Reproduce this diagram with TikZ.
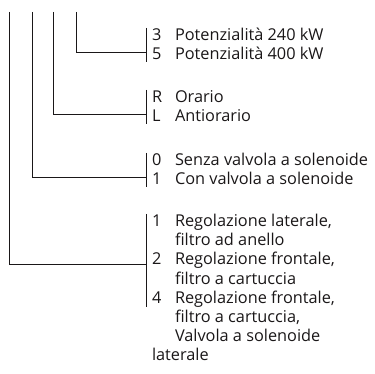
\documentclass[tikz,border=0pt]{standalone}
\usepackage{fontspec}
\setmainfont{Open Sans}
\definecolor{ink}{HTML}{1A1718}
\begin{document}
\begin{tikzpicture}[x=1pt,y=-1pt,
  every node/.style={inner sep=0pt,outer sep=0pt,text=ink,font=\fontsize{16.3}{19}\selectfont},
  lbl/.style={anchor=base west},
  wire/.style={draw=ink,line width=0.9pt},
  barline/.style={draw=ink,line width=0.9pt}]
\useasboundingbox (0,0) rectangle (375,374);
% group 1
\node[lbl] (n3) at (152,41) {3};
\node[lbl] (t3) at (175,41) {Potenzialità 240 kW};
\node[lbl] (n5) at (152,60) {5};
\node[lbl] (t5) at (175,60) {Potenzialità 400 kW};
% group 2
\node[lbl] (nR) at (152,103) {R};
\node[lbl] (tR) at (175,103) {Orario};
\node[lbl] (nL) at (152,122) {L};
\node[lbl] (tL) at (175,122) {Antiorario};
% group 3
\node[lbl] (n0) at (152,166) {0};
\node[lbl] (t0) at (175,166) {Senza valvola a solenoide};
\node[lbl] (n1) at (152,185) {1};
\node[lbl] (t1) at (175,185) {Con valvola a solenoide};
% group 4
\node[lbl] (m1) at (152,227) {1};
\node[lbl] (u1a) at (175,227) {Regolazione laterale,};
\node[lbl] (u1b) at (175,246) {filtro ad anello};
\node[lbl] (m2) at (152,265) {2};
\node[lbl] (u2a) at (175,265) {Regolazione frontale,};
\node[lbl] (u2b) at (175,284) {filtro a cartuccia};
\node[lbl] (m4) at (152,303) {4};
\node[lbl] (u4a) at (175,303) {Regolazione frontale,};
\node[lbl] (u4b) at (175,322) {filtro a cartuccia,};
\node[lbl] (u4c) at (175,341) {Valvola a solenoide};
\node[lbl] (u4d) at (152,360) {laterale};
% bars
\coordinate (b1t) at (146,28); \coordinate (b1b) at (146,62); \coordinate (b1m) at (146,52);
\coordinate (b2t) at (146,90); \coordinate (b2b) at (146,124); \coordinate (b2m) at (146,114);
\coordinate (b3t) at (146,153); \coordinate (b3b) at (146,187); \coordinate (b3m) at (146,177);
\coordinate (b4t) at (146,214); \coordinate (b4b) at (146,307); \coordinate (b4m) at (146,264);
\draw[barline] (b1t) -- (b1b);
\draw[barline] (b2t) -- (b2b);
\draw[barline] (b3t) -- (b3b);
\draw[barline] (b4t) -- (b4b);
% leads
\coordinate (s1) at (76,12);
\coordinate (s2) at (53,12);
\coordinate (s3) at (32,12);
\coordinate (s4) at (9,12);
\draw[wire] (s1) |- (b1m);
\draw[wire] (s2) |- (b2m);
\draw[wire] (s3) |- (b3m);
\draw[wire] (s4) |- (b4m);
\end{tikzpicture}
\end{document}
